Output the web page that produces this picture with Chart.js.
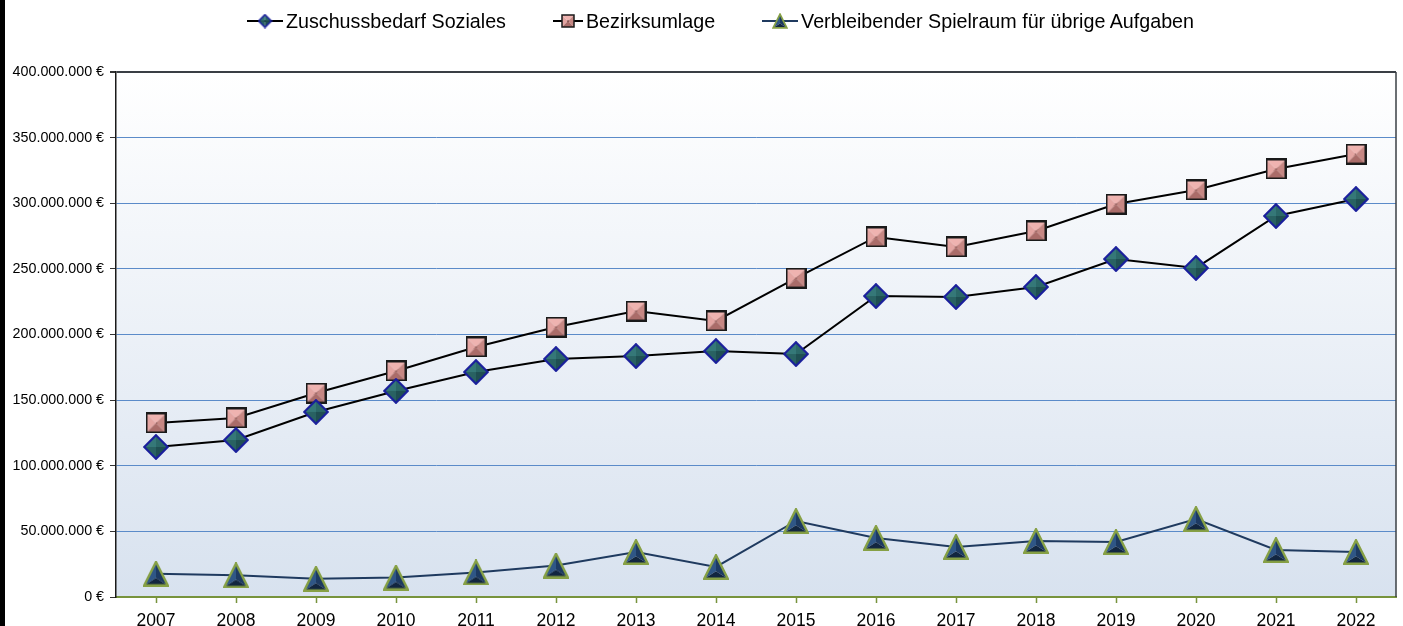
<!DOCTYPE html>
<html lang="de">
<head>
<meta charset="UTF-8">
<title>Zuschussbedarf Soziales und Bezirksumlage</title>
<script src="https://cdn.jsdelivr.net/npm/chart.js"></script>
<style>
  body { margin: 0; background: #fff; font-family: "Liberation Sans", Arial, sans-serif; }
  #wrap { position: relative; width: 1403px; height: 626px; overflow: hidden; }
  #myChart { position: absolute; left: 0; top: 0; }
  #legend { position: absolute; left: 247px; top: 8px; height: 26px; display: flex; align-items: center; font-size: 19.7px; color: #000; white-space: nowrap; }
  .item { display: flex; align-items: center; margin-right: 47px; }
  .item canvas { margin-right: 3px; }
</style>
</head>
<body>
<div id="wrap">
  <canvas id="myChart" width="1403" height="626"></canvas>
  <div id="legend"></div>
</div>

<script>
// data
const years = ['2007', '2008', '2009', '2010', '2011', '2012', '2013', '2014',
               '2015', '2016', '2017', '2018', '2019', '2020', '2021', '2022'];
const zuschuss = [114.3, 119.6, 141.0, 157.0, 171.4, 181.3, 183.6, 187.4,
                  185.1, 229.3, 228.6, 236.2, 257.5, 250.7, 290.3, 303.2].map(v => v * 1e6);
const umlage = [132.6, 136.4, 155.4, 172.2, 190.5, 205.7, 217.9, 210.3,
                243.0, 274.3, 266.7, 278.9, 299.4, 310.1, 326.1, 337.5].map(v => v * 1e6);
const spielraum = [17.8, 16.5, 13.9, 14.8, 18.7, 24.0, 34.3, 22.9,
                   57.9, 45.0, 38.1, 42.7, 41.9, 59.4, 35.8, 34.3].map(v => v * 1e6);
const yTicks = [0, 50e6, 100e6, 150e6, 200e6, 250e6, 300e6, 350e6, 400e6];

function euro(v) {
    return String(Math.round(v)).replace(/\B(?=(\d{3})+(?!\d))/g, '.') + ' €';
}

function facet(ctx, pts, color) {
    ctx.beginPath();
    ctx.moveTo(pts[0][0], pts[0][1]);
    for (let i = 1; i < pts.length; i++) ctx.lineTo(pts[i][0], pts[i][1]);
    ctx.closePath();
    ctx.fillStyle = color;
    ctx.fill();
}

// bevelled markers like the office chart
function makeDiamond(s) {
    const c = document.createElement('canvas');
    c.width = s; c.height = s;
    const ctx = c.getContext('2d');
    const m = s / 2, e = 1.2, f = s - 1.2;
    const T = [m, e], R = [f, m], B = [m, f], L = [e, m], C = [m, m];
    facet(ctx, [T, C, L], '#357878');
    facet(ctx, [T, R, C], '#2b6868');
    facet(ctx, [R, B, C], '#1f4f52');
    facet(ctx, [B, L, C], '#296262');
    ctx.beginPath();
    ctx.moveTo(T[0], T[1]); ctx.lineTo(R[0], R[1]); ctx.lineTo(B[0], B[1]); ctx.lineTo(L[0], L[1]); ctx.closePath();
    ctx.strokeStyle = '#1a1f9c';
    ctx.lineWidth = s > 17 ? 2.2 : 1.6;
    ctx.stroke();
    return c;
}

function makeSquare(s) {
    const c = document.createElement('canvas');
    c.width = s; c.height = s;
    const ctx = c.getContext('2d');
    const a = 1, b = s - 1, m = s / 2;
    const TL = [a, a], TR = [b, a], BR = [b, b], BL = [a, b], C = [m, m];
    facet(ctx, [TL, TR, C], '#efb3b0');
    facet(ctx, [TL, C, BL], '#e4a5a2');
    facet(ctx, [TR, BR, C], '#c68783');
    facet(ctx, [BL, C, BR], '#aa6c69');
    ctx.strokeStyle = '#1a1a1a';
    ctx.lineWidth = s > 17 ? 2 : 1.5;
    ctx.strokeRect(a, a, b - a, b - a);
    return c;
}

function makeTriangle(s) {
    const c = document.createElement('canvas');
    c.width = s; c.height = s;
    const ctx = c.getContext('2d');
    const T = [s / 2, 1.2], L = [1.2, s - 1.2], R = [s - 1.2, s - 1.2], C = [s / 2, s * 0.66];
    facet(ctx, [T, C, L], '#2f5686');
    facet(ctx, [T, R, C], '#1d3a62');
    facet(ctx, [L, C, R], '#122640');
    ctx.beginPath();
    ctx.moveTo(T[0], T[1]); ctx.lineTo(R[0], R[1]); ctx.lineTo(L[0], L[1]); ctx.closePath();
    ctx.strokeStyle = '#86a045';
    ctx.lineWidth = s > 17 ? 2.4 : 1.7;
    ctx.lineJoin = 'miter';
    ctx.stroke();
    return c;
}

const series = [
    { label: 'Zuschussbedarf Soziales', data: zuschuss, line: '#000000', marker: makeDiamond(26), icon: makeDiamond(15), w: 36 },
    { label: 'Bezirksumlage', data: umlage, line: '#000000', marker: makeSquare(21), icon: makeSquare(14), w: 30 },
    { label: 'Verbleibender Spielraum für übrige Aufgaben', data: spielraum, line: '#1f3a5f', marker: makeTriangle(26), icon: makeTriangle(16), w: 36 }
];

// legend (html)
const legend = document.getElementById('legend');
series.forEach(s => {
    const item = document.createElement('div');
    item.className = 'item';
    const ic = document.createElement('canvas');
    ic.width = s.w; ic.height = 18;
    const g = ic.getContext('2d');
    g.strokeStyle = s.line;
    g.lineWidth = 2;
    g.beginPath(); g.moveTo(0, 9); g.lineTo(s.w, 9); g.stroke();
    g.drawImage(s.icon, (s.w - s.icon.width) / 2, 9 - s.icon.height / 2);
    const tx = document.createElement('span');
    tx.textContent = s.label;
    item.appendChild(ic);
    item.appendChild(tx);
    legend.appendChild(item);
});

const backdrop = {
    id: 'backdrop',
    beforeDraw(chart) {
        const { ctx, chartArea: a } = chart;
        ctx.save();
        ctx.fillStyle = '#000';
        ctx.fillRect(0, 0, 5, chart.height);
        const grad = ctx.createLinearGradient(0, a.top, 0, a.bottom);
        grad.addColorStop(0, '#ffffff');
        grad.addColorStop(1, '#d8e2ef');
        ctx.fillStyle = grad;
        ctx.fillRect(a.left, a.top, a.right - a.left, a.bottom - a.top);
        ctx.restore();
    },
    beforeDatasetsDraw(chart) {
        const { ctx, chartArea: a } = chart;
        ctx.save();
        ctx.strokeStyle = '#3a3f45';
        ctx.lineWidth = 1.5;
        ctx.beginPath();
        ctx.moveTo(a.right, a.top);
        ctx.lineTo(a.right, a.bottom);
        ctx.stroke();
        ctx.restore();
    }
};

const ctx = document.getElementById('myChart').getContext('2d');
const myChart = new Chart(ctx, {
    type: 'line',
    data: {
        labels: years,
        datasets: series.map(s => ({
            label: s.label,
            data: s.data,
            borderColor: s.line,
            borderWidth: 2,
            tension: 0,
            pointStyle: s.marker,
            pointRadius: 12,
            fill: false
        }))
    },
    options: {
        responsive: false,
        animation: false,
        events: [],
        layout: { autoPadding: false, padding: { top: 72, right: 7, left: 0, bottom: 0 } },
        plugins: {
            legend: { display: false },
            tooltip: { enabled: false }
        },
        scales: {
            x: {
                offset: true,
                afterFit: s => { s.height = 29; s.paddingLeft = 0; s.paddingRight = 0; },
                grid: { drawOnChartArea: false, drawTicks: true, tickLength: 6, tickColor: '#77933c', tickWidth: 1.5 },
                border: { color: '#77933c', width: 2 },
                ticks: { color: '#000', padding: 8, font: { family: 'Liberation Sans', size: 17.5 } }
            },
            y: {
                min: 0,
                max: 400e6,
                afterFit: s => { s.width = 116; },
                afterBuildTicks: s => { s.ticks = yTicks.map(v => ({ value: v })); },
                grid: {
                    color: c => c.tick.value === 0 ? 'rgba(0,0,0,0)' : (c.tick.value === 400e6 ? '#3a3f45' : '#5b8bc9'),
                    lineWidth: c => c.tick.value === 400e6 ? 2 : 1,
                    tickLength: 6,
                    tickColor: '#333'
                },
                border: { color: '#1a1a1a', width: 1.5 },
                ticks: {
                    color: '#000',
                    padding: 6,
                    font: { family: 'Liberation Sans', size: 14.3 },
                    callback: v => euro(v)
                }
            }
        }
    },
    plugins: [backdrop]
});
</script>
</body>
</html>
